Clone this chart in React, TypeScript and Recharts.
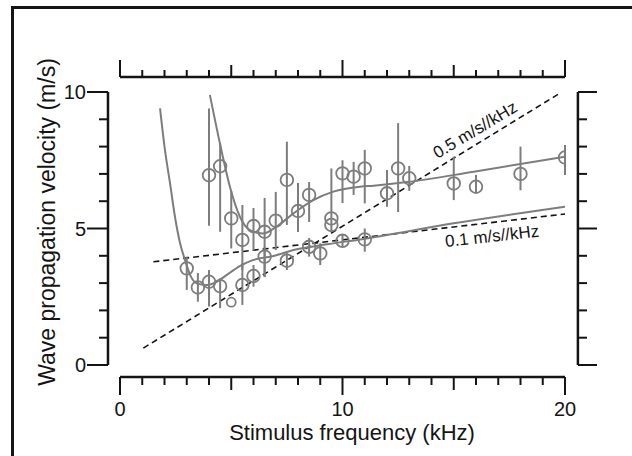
import {
  ComposedChart,
  XAxis,
  YAxis,
  Line,
  Scatter,
  ErrorBar,
  ReferenceLine,
  ReferenceDot,
} from 'recharts';

const FONT = '"Liberation Sans", Arial, Helvetica, sans-serif';
const INK = '#141414';
const GREY = '#7d7d7d';

// upper branch (fast wave)
const upperFreq = [4, 4.5, 5, 5.5, 6, 6.5, 7, 7.5, 8, 8.5, 9.5, 9.5, 10, 10.5, 11, 12, 12.5, 13, 15, 16, 18, 20];
const upperVel = [6.95, 7.28, 5.37, 4.58, 5.09, 4.88, 5.29, 6.78, 5.64, 6.23, 5.37, 5.13, 7.02, 6.9, 7.2, 6.29, 7.2, 6.84, 6.65, 6.53, 7.0, 7.6];
// [below, above]
const upperErr = [
  [1.85, 2.45], [2.4, 0.85], [1.1, 1.0], [1.1, 1.28], [0.9, 0.66], [1.66, 1.24],
  [1.08, 1.05], [1.65, 1.4], [0.77, 1.03], [0.99, 0.47], [0.5, 1.83], [0, 0],
  [1.09, 0.48], [0.67, 0.54], [1.28, 0.68], [0.49, 0.85], [1.6, 1.66], [0.46, 0.45],
  [0.61, 0.98], [0.23, 0.43], [0.6, 1.0], [0.64, 0.46],
];

// lower branch (slow wave)
const lowerFreq = [3, 3.5, 4, 4.5, 5, 5.5, 6, 6.5, 7.5, 8.5, 9, 10, 11];
const lowerVel = [3.54, 2.84, 3.05, 2.89, 2.3, 2.93, 3.26, 3.97, 3.82, 4.33, 4.09, 4.55, 4.6];
const lowerErr = [
  [0.79, 0.43], [0.52, 0.53], [0.91, 0.43], [0.81, 0.29], [0, 0], [0.73, 0.8],
  [0.39, 0.4], [0.74, 0.36], [0.34, 0.28], [0.36, 0.32], [0.43, 0.37], [0.22, 0.21], [0.45, 0.4],
];

// fitted curves
const fitLowFreq = [1.8, 2.02, 2.25, 2.47, 2.7, 2.92, 3.15, 3.45, 3.9, 4.35, 4.8, 5.4, 6.0, 6.9, 7.8, 9.3, 10.8, 15, 20];
const fitLowVel = [9.4, 7.88, 6.65, 5.43, 4.46, 3.85, 3.3, 2.99, 2.93, 3.05, 3.3, 3.63, 3.85, 3.99, 4.21, 4.42, 4.6, 5.19, 5.8];
const fitHighFreq = [4.04, 4.49, 4.94, 5.39, 5.84, 6.44, 7.04, 7.79, 8.69, 9.59, 10.79, 11.4, 12.9, 15.9, 20];
const fitHighVel = [9.89, 8.12, 6.53, 5.43, 4.94, 4.82, 5.07, 5.55, 6.04, 6.35, 6.53, 6.57, 6.7, 7.08, 7.63];

// reference slopes
const slope05Freq = [1.05, 19.8];
const slope05Vel = [0.62, 9.97];
const slope01Freq = [1.5, 20.2];
const slope01Vel = [3.78, 5.55];

const xTicks = [0, 1, 2, 3, 4, 5, 6, 7, 8, 9, 10, 11, 12, 13, 14, 15, 16, 17, 18, 19, 20];
const yTicks = [0, 1, 2, 3, 4, 5, 6, 7, 8, 9, 10];

const pts = (fs: number[], vs: number[], errs?: number[][]) =>
  fs.map((f, i) => ({ f, v: vs[i], err: errs ? errs[i] : undefined }));

const upperPts = pts(upperFreq, upperVel, upperErr);
const lowerPts = pts(lowerFreq, lowerVel, lowerErr);
const fitLow = pts(fitLowFreq, fitLowVel);
const fitHigh = pts(fitHighFreq, fitHighVel);
const slope05 = pts(slope05Freq, slope05Vel);
const slope01 = pts(slope01Freq, slope01Vel);

function BottomTick({ x, y, payload }: any) {
  const v = payload.value;
  const len = v % 10 === 0 ? 18 : v % 5 === 0 ? 13 : 8;
  return (
    <g>
      <line x1={x} y1={y} x2={x} y2={y + len} stroke={INK} strokeWidth={2} />
      {v % 10 === 0 && (
        <text x={x} y={y + 39} textAnchor="middle" fontSize={20} fontFamily={FONT} fill={INK}>
          {v}
        </text>
      )}
    </g>
  );
}

function TopTick({ x, y, payload }: any) {
  const v = payload.value;
  const len = v % 10 === 0 ? 17 : v % 5 === 0 ? 12 : 7;
  return <line x1={x} y1={y} x2={x} y2={y - len} stroke={INK} strokeWidth={2} />;
}

function LeftTick({ x, y, payload }: any) {
  const v = payload.value;
  const major = v % 5 === 0;
  return (
    <g>
      <line x1={x - (major ? 21 : 9)} y1={y} x2={x} y2={y} stroke={INK} strokeWidth={2} />
      {major && (
        <text x={x - 22} y={y + 7} textAnchor="end" fontSize={20} fontFamily={FONT} fill={INK}>
          {v}
        </text>
      )}
    </g>
  );
}

function RightTick({ x, y, payload }: any) {
  const v = payload.value;
  const len = v % 5 === 0 ? 19 : 9;
  return <line x1={x} y1={y} x2={x + len} y2={y} stroke={INK} strokeWidth={2} />;
}

function Ring({ cx, cy, payload }: any) {
  const r = payload && payload.err && payload.err[0] === 0 && payload.v < 3 ? 4.5 : 6.3;
  return <circle cx={cx} cy={cy} r={r} fill="none" stroke={GREY} strokeWidth={1.8} />;
}

function XTitle() {
  return (
    <text x={352} y={440} textAnchor="middle" fontSize={22} fontFamily={FONT} fill={INK}>
      Stimulus frequency (kHz)
    </text>
  );
}

function YTitle() {
  return (
    <text
      x={55}
      y={222}
      transform="rotate(-90 55 222)"
      textAnchor="middle"
      fontSize={23}
      fontFamily={FONT}
      fill={INK}
    >
      Wave propagation velocity (m/s)
    </text>
  );
}

const slopeLabel = (text: string, angle: number) => (p: any) => (
  <text
    x={p.cx}
    y={p.cy}
    dy="0.35em"
    transform={`rotate(${angle} ${p.cx} ${p.cy})`}
    textAnchor="middle"
    fontSize={17}
    fontFamily={FONT}
    fill={INK}
  >
    {text}
  </text>
);

export default function App() {
  return (
    <div style={{ position: 'absolute', left: 0, top: 0, width: 632, height: 456, background: '#fff' }}>
      <div
        style={{
          position: 'absolute',
          left: 11,
          top: 6,
          right: 0,
          bottom: 0,
          borderLeft: `3px solid ${INK}`,
          borderTop: `3px solid ${INK}`,
        }}
      />
      <div style={{ position: 'absolute', left: 0, top: 0 }}>
        <ComposedChart width={632} height={456} margin={{ top: 0, right: 0, bottom: 0, left: 0 }}>
          <XAxis
            xAxisId="b"
            dataKey="f"
            type="number"
            domain={[0, 20]}
            ticks={xTicks}
            interval={0}
            allowDataOverflow
            padding={{ left: 12, right: 13 }}
            height={79}
            axisLine={false}
            tickLine={false}
            tickSize={0}
            tickMargin={0}
            tick={BottomTick}
            label={<XTitle />}
          />
          <XAxis
            xAxisId="t"
            orientation="top"
            dataKey="f"
            type="number"
            domain={[0, 20]}
            ticks={xTicks}
            interval={0}
            allowDataOverflow
            padding={{ left: 12, right: 13 }}
            height={77}
            axisLine={false}
            tickLine={false}
            tickSize={0}
            tickMargin={0}
            tick={TopTick}
          />
          <YAxis
            yAxisId="l"
            dataKey="v"
            type="number"
            domain={[0, 10]}
            ticks={yTicks}
            interval={0}
            allowDataOverflow
            padding={{ top: 15, bottom: 12 }}
            width={108}
            axisLine={false}
            tickLine={false}
            tickSize={0}
            tickMargin={0}
            tick={LeftTick}
            label={<YTitle />}
          />
          <YAxis
            yAxisId="r"
            orientation="right"
            dataKey="v"
            type="number"
            domain={[0, 10]}
            ticks={yTicks}
            interval={0}
            allowDataOverflow
            padding={{ top: 15, bottom: 12 }}
            width={54}
            axisLine={false}
            tickLine={false}
            tickSize={0}
            tickMargin={0}
            tick={RightTick}
          />

          {/* detached axis spines */}
          <ReferenceLine xAxisId="b" yAxisId="l" ifOverflow="visible" segment={[{ x: 0, y: -0.44 }, { x: 20, y: -0.44 }]} stroke={INK} strokeWidth={2.5} />
          <ReferenceLine xAxisId="b" yAxisId="l" ifOverflow="visible" segment={[{ x: 0, y: 10.55 }, { x: 20, y: 10.55 }]} stroke={INK} strokeWidth={2.5} />
          <ReferenceLine xAxisId="b" yAxisId="l" ifOverflow="visible" segment={[{ x: -0.54, y: 0 }, { x: -0.54, y: 10 }]} stroke={INK} strokeWidth={2.5} />
          <ReferenceLine xAxisId="b" yAxisId="l" ifOverflow="visible" segment={[{ x: 20.58, y: 0 }, { x: 20.58, y: 10 }]} stroke={INK} strokeWidth={2.5} />

          <Line xAxisId="b" yAxisId="l" data={slope05} dataKey="v" type="linear" stroke={INK} strokeWidth={1.6} strokeDasharray="6 4" dot={false} isAnimationActive={false} />
          <Line xAxisId="b" yAxisId="l" data={slope01} dataKey="v" type="linear" stroke={INK} strokeWidth={1.6} strokeDasharray="6 4" dot={false} isAnimationActive={false} />
          <Line xAxisId="b" yAxisId="l" data={fitLow} dataKey="v" type="monotone" stroke={GREY} strokeWidth={2} dot={false} isAnimationActive={false} />
          <Line xAxisId="b" yAxisId="l" data={fitHigh} dataKey="v" type="monotone" stroke={GREY} strokeWidth={2} dot={false} isAnimationActive={false} />

          <Scatter xAxisId="b" yAxisId="l" data={upperPts} dataKey="v" shape={Ring} isAnimationActive={false}>
            <ErrorBar dataKey="err" direction="y" width={0} stroke={GREY} strokeWidth={2} isAnimationActive={false} />
          </Scatter>
          <Scatter xAxisId="b" yAxisId="l" data={lowerPts} dataKey="v" shape={Ring} isAnimationActive={false}>
            <ErrorBar dataKey="err" direction="y" width={0} stroke={GREY} strokeWidth={2} isAnimationActive={false} />
          </Scatter>

          <ReferenceDot xAxisId="b" yAxisId="l" x={15.95} y={8.62} r={0} shape={slopeLabel('0.5 m/s//kHz', -31)} />
          <ReferenceDot xAxisId="b" yAxisId="l" x={16.72} y={4.73} r={0} shape={slopeLabel('0.1 m/s//kHz', -6.5)} />
        </ComposedChart>
      </div>
    </div>
  );
}
